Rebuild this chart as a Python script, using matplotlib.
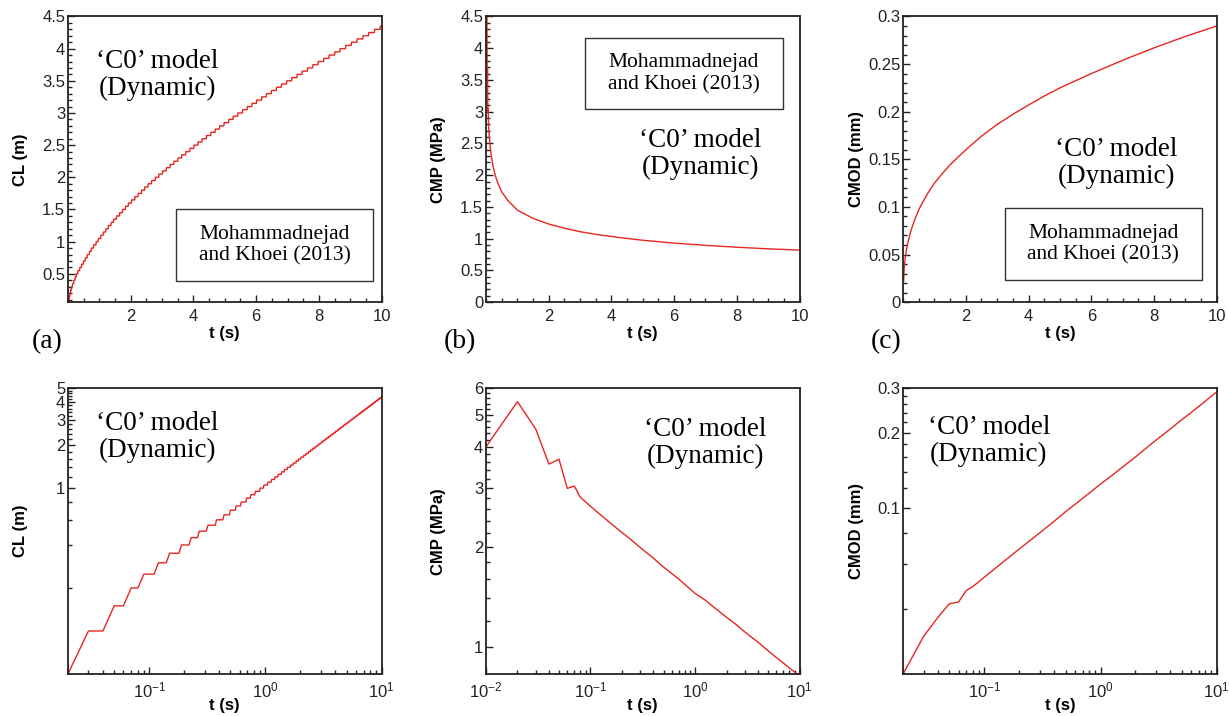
import matplotlib

matplotlib.use("Agg")
import matplotlib.pyplot as plt
from matplotlib.patches import Rectangle
from matplotlib.ticker import FixedLocator, FuncFormatter, MultipleLocator, NullFormatter, LogLocator

plt.rcParams["font.family"] = ["Liberation Sans", "DejaVu Sans"]
plt.rcParams["mathtext.default"] = "regular"

RED = "#e8261e"
SERIF = ["Liberation Serif", "DejaVu Serif"]

# crack length: staircase, each level reached after a jump that starts at cl_jump_t
cl_start_t = 0.02
cl_start = 0.05
cl_jump_t = [0.02, 0.04, 0.06, 0.08, 0.11, 0.14, 0.18, 0.22, 0.26, 0.31,
             0.37, 0.43, 0.49, 0.55, 0.61, 0.68, 0.74, 0.81, 0.89, 0.96,
             1.04, 1.12, 1.20, 1.28, 1.37, 1.45, 1.54, 1.64, 1.73, 1.83,
             1.92, 2.02, 2.13, 2.23, 2.34, 2.44, 2.55, 2.66, 2.78, 2.89,
             3.01, 3.13, 3.25, 3.37, 3.50, 3.62, 3.75, 3.88, 4.01, 4.14,
             4.27, 4.41, 4.55, 4.69, 4.83, 4.97, 5.12, 5.26, 5.41, 5.56,
             5.71, 5.86, 6.01, 6.17, 6.32, 6.48, 6.64, 6.80, 6.97, 7.13,
             7.30, 7.46, 7.63, 7.80, 7.97, 8.15, 8.32, 8.50, 8.67, 8.85,
             9.03, 9.21, 9.40, 9.58, 9.77, 9.95]
cl_level = [0.10, 0.15, 0.20, 0.25, 0.30, 0.35, 0.40, 0.45, 0.50, 0.55,
            0.60, 0.65, 0.70, 0.75, 0.80, 0.85, 0.90, 0.95, 1.00, 1.05,
            1.10, 1.15, 1.20, 1.25, 1.30, 1.35, 1.40, 1.45, 1.50, 1.55,
            1.60, 1.65, 1.70, 1.75, 1.80, 1.85, 1.90, 1.95, 2.00, 2.05,
            2.10, 2.15, 2.20, 2.25, 2.30, 2.35, 2.40, 2.45, 2.50, 2.55,
            2.60, 2.65, 2.70, 2.75, 2.80, 2.85, 2.90, 2.95, 3.00, 3.05,
            3.10, 3.15, 3.20, 3.25, 3.30, 3.35, 3.40, 3.45, 3.50, 3.55,
            3.60, 3.65, 3.70, 3.75, 3.80, 3.85, 3.90, 3.95, 4.00, 4.05,
            4.10, 4.15, 4.20, 4.25, 4.30, 4.35]
cl_end_t = 10.0
dt_sample = 0.01

# crack mouth pressure (MPa)
cmp_t = [0.01, 0.02, 0.03, 0.04, 0.05, 0.06, 0.07, 0.08, 0.1, 0.15, 0.2, 0.25,
         0.3, 0.4, 0.5, 0.7, 1, 1.25, 1.5, 2, 2.5, 3, 3.5, 4, 4.5, 5, 6, 7, 8, 9, 10]
cmp_v = [4.0, 5.47, 4.52, 3.55, 3.67, 3.0, 3.05, 2.82, 2.65, 2.38, 2.21, 2.09,
         1.99, 1.85, 1.74, 1.60, 1.45, 1.385, 1.32, 1.23, 1.165, 1.11, 1.068, 1.035,
         1.003, 0.975, 0.93, 0.895, 0.865, 0.84, 0.82]

# crack mouth opening displacement (mm)
cmod_t = [0.02, 0.03, 0.04, 0.05, 0.06, 0.07, 0.08, 0.1, 0.15, 0.2, 0.25, 0.3,
          0.4, 0.5, 0.6, 0.8, 1, 1.25, 1.5, 2, 2.5, 3, 3.5, 4, 4.5, 5, 6, 7, 8, 9, 10]
cmod_v = [0.022, 0.031, 0.037, 0.0418, 0.0425, 0.0472, 0.049, 0.0533, 0.062, 0.069,
          0.0748, 0.0800, 0.0890, 0.0970, 0.1035, 0.1150, 0.1250, 0.1350, 0.1443,
          0.1600, 0.1743, 0.1866, 0.1972, 0.2070, 0.2164, 0.2250, 0.2400, 0.2540,
          0.2670, 0.2790, 0.2900]


def staircase():
    xs, ys = [cl_start_t], [cl_start]
    prev = cl_start
    for t, lv in zip(cl_jump_t, cl_level):
        if t > xs[-1]:
            xs.append(t)
            ys.append(prev)
        xs.append(t + dt_sample)
        ys.append(lv)
        prev = lv
    xs.append(cl_end_t)
    ys.append(prev)
    return xs, ys


def style(ax, ylabel):
    for s in ax.spines.values():
        s.set_linewidth(1.3)
        s.set_color("#222222")
    ax.tick_params(which="both", direction="in", top=False, right=False,
                   labelsize=12, colors="#222222", width=1.0)
    ax.tick_params(axis="x", which="both", pad=5)
    ax.tick_params(axis="y", which="both", pad=2)
    ax.tick_params(which="major", length=5)
    ax.tick_params(which="minor", length=3)
    ax.set_xlabel("t (s)", fontsize=12, fontweight="bold")
    ax.set_ylabel(ylabel, fontsize=12, fontweight="bold")
    ax.xaxis.set_label_coords(0.5, -0.085)
    ax.yaxis.set_label_coords(-0.126, 0.5)


def model_text(ax, x, y):
    ax.text(x, y, "\u2018C0\u2019 model\n(Dynamic)", transform=ax.transAxes,
            ha="center", va="center", fontsize=19.5, family=SERIF,
            linespacing=1.1, multialignment="center")


def ref_box(ax, x0, y0, x1, y1):
    ax.add_patch(Rectangle((x0, y0), x1 - x0, y1 - y0, transform=ax.transAxes,
                           fill=False, edgecolor="#333333", lw=1.0))
    ax.text((x0 + x1) / 2, (y0 + y1) / 2, "Mohammadnejad\nand Khoei (2013)",
            transform=ax.transAxes, ha="center", va="center", fontsize=15.5,
            family=SERIF, linespacing=1.2)


fmt = FuncFormatter(lambda v, p: "%g" % v)

fig = plt.figure(figsize=(12.29, 7.16), dpi=100)
lefts = [0.0553, 0.3954, 0.7348]
w, h = 0.2552, 0.399
top_b, bot_b = 0.578, 0.0587

cl_x, cl_y = staircase()

# ---- top row (linear) ----
ax = fig.add_axes([lefts[0], top_b, w, h])
ax.plot(cl_x, cl_y, color=RED, lw=1.0)
ax.set_xlim(0, 10)
ax.set_ylim(0.06, 4.5)
ax.yaxis.set_major_locator(MultipleLocator(0.5))
ax.yaxis.set_minor_locator(MultipleLocator(0.1))
style(ax, "CL (m)")
model_text(ax, 0.285, 0.795)
ref_box(ax, 0.345, 0.074, 0.972, 0.325)

ax = fig.add_axes([lefts[1], top_b, w, h])
ax.plot(cmp_t, cmp_v, color=RED, lw=1.0)
ax.set_xlim(0, 10)
ax.set_ylim(0, 4.5)
ax.yaxis.set_major_locator(MultipleLocator(0.5))
ax.yaxis.set_minor_locator(MultipleLocator(0.1))
style(ax, "CMP (MPa)")
model_text(ax, 0.684, 0.517)
ref_box(ax, 0.316, 0.675, 0.947, 0.925)

ax = fig.add_axes([lefts[2], top_b, w, h])
ax.plot(cmod_t, cmod_v, color=RED, lw=1.0)
ax.set_xlim(0, 10)
ax.set_ylim(0, 0.3)
ax.yaxis.set_major_locator(MultipleLocator(0.05))
ax.yaxis.set_minor_locator(MultipleLocator(0.01))
style(ax, "CMOD (mm)")
model_text(ax, 0.68, 0.486)
ref_box(ax, 0.324, 0.078, 0.952, 0.328)

for a in fig.axes:
    a.xaxis.set_major_locator(FixedLocator([2, 4, 6, 8, 10]))
    a.xaxis.set_minor_locator(MultipleLocator(0.5))
    a.xaxis.set_major_formatter(fmt)
    a.yaxis.set_major_formatter(fmt)

# ---- bottom row (log-log) ----
def log_axes(left, ylabel, xlim, ylim, yticks, yminor):
    ax = fig.add_axes([left, bot_b, w, h])
    ax.set_xscale("log")
    ax.set_yscale("log")
    ax.set_xlim(*xlim)
    ax.set_ylim(*ylim)
    ax.xaxis.set_major_locator(LogLocator(base=10))
    ax.xaxis.set_minor_locator(LogLocator(base=10, subs=range(2, 10)))
    ax.xaxis.set_minor_formatter(NullFormatter())
    ax.yaxis.set_major_locator(FixedLocator(yticks))
    ax.yaxis.set_major_formatter(fmt)
    ax.yaxis.set_minor_locator(FixedLocator(yminor))
    ax.yaxis.set_minor_formatter(NullFormatter())
    style(ax, ylabel)
    return ax


ax = log_axes(lefts[0], "CL (m)", (0.02, 10), (0.05, 5), [1, 2, 3, 4, 5],
              [0.2, 0.4, 0.6, 0.8, 1.2, 1.4, 1.6, 1.8, 2.2, 2.4, 2.6, 2.8,
               3.2, 3.4, 3.6, 3.8, 4.2, 4.4, 4.6, 4.8])
ax.plot(cl_x, cl_y, color=RED, lw=1.0)
model_text(ax, 0.284, 0.83)

ax = log_axes(lefts[1], "CMP (MPa)", (0.01, 10), (0.83, 6), [1, 2, 3, 4, 5, 6],
              [1.2, 1.4, 1.6, 1.8, 2.2, 2.4, 2.6, 2.8, 3.2, 3.4, 3.6, 3.8,
               4.2, 4.4, 4.6, 4.8, 5.2, 5.4, 5.6, 5.8])
ax.plot(cmp_t, cmp_v, color=RED, lw=1.0)
model_text(ax, 0.70, 0.81)

ax = log_axes(lefts[2], "CMOD (mm)", (0.02, 10), (0.022, 0.3), [0.1, 0.2, 0.3],
              [0.04, 0.06, 0.08, 0.12, 0.14, 0.16, 0.18, 0.22, 0.24, 0.26, 0.28])
ax.plot(cmod_t, cmod_v, color=RED, lw=1.0)
model_text(ax, 0.273, 0.816)

for lab, px in (("(a)", 46.7), ("(b)", 460), ("(c)", 886)):
    fig.text(px / 1229, 1 - 341.7 / 716, lab, ha="center", va="center",
             fontsize=20, family=SERIF)

fig.savefig("out.png", dpi=100)
